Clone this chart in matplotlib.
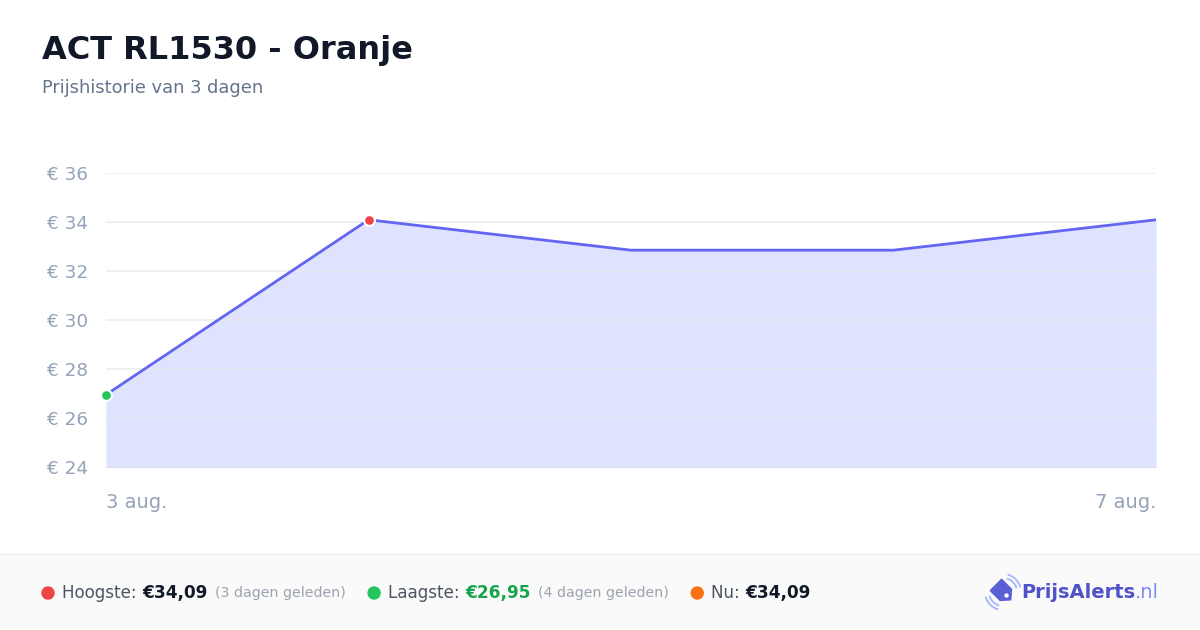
import numpy as np
import matplotlib.pyplot as plt
from matplotlib.patches import Rectangle, Polygon, Arc, Circle

plt.rcParams['font.family'] = ['DejaVu Sans']

# Prijsdata
dates = ['3 aug.', '4 aug.', '5 aug.', '6 aug.', '7 aug.']
prices = [26.95, 34.09, 32.85, 32.85, 34.09]
y_ticks = [24, 26, 28, 30, 32, 34, 36]

title = 'ACT RL1530 - Oranje'
subtitle = 'Prijshistorie van 3 dagen'
high_label, high_value, high_note = 'Hoogste: ', '€34,09', '(3 dagen geleden)'
low_label, low_value, low_note = 'Laagste: ', '€26,95', '(4 dagen geleden)'
now_label, now_value = 'Nu: ', '€34,09'

W, H = 1200, 630
fig = plt.figure(figsize=(12, 6.3), dpi=100)
fig.patch.set_facecolor('white')

# Footer achtergrond
fig.patches.append(Rectangle((0, 0), 1, 76 / H, transform=fig.transFigure,
                             facecolor='#fafafa', edgecolor='none', zorder=0))
fig.lines.append(plt.Line2D([0, 1], [76 / H, 76 / H], transform=fig.transFigure,
                            color='#eeeeee', linewidth=1))

# Grafiek
ax = fig.add_axes([106 / W, (H - 467) / H, 1050 / W, 294 / H])
x = list(range(len(prices)))
ax.fill_between(x, prices, 24, color='#e0e3ff', linewidth=0, zorder=1)
ax.plot(x, prices, color='#6366f1', linewidth=2, zorder=3)
i_max = prices.index(max(prices))
i_min = prices.index(min(prices))
ax.scatter([x[i_max]], [prices[i_max]], s=60, color='#ef4444', edgecolor='white',
           linewidth=1.5, zorder=4, clip_on=False)
ax.scatter([x[i_min]], [prices[i_min]], s=60, color='#22c55e', edgecolor='white',
           linewidth=1.5, zorder=4, clip_on=False)
ax.set_xlim(0, len(prices) - 1)
ax.set_ylim(24, 36)
ax.set_yticks(y_ticks)
ax.set_yticklabels([f'€ {v}' for v in y_ticks])
ax.grid(axis='y', color='#e5e7eb', linewidth=1.2, alpha=0.75, zorder=2)
ax.set_axisbelow(False)
ax.set_xticks([])
for s in ['top', 'right', 'left']:
    ax.spines[s].set_visible(False)
ax.spines['bottom'].set_color('#dcdff0')
ax.spines['bottom'].set_zorder(5)
ax.tick_params(axis='y', length=0, pad=13, labelsize=13.2, labelcolor='#94a3b8')
ax.set_facecolor('none')

ax.text(0, -0.122, dates[0], transform=ax.transAxes, ha='left', va='center',
        fontsize=14, color='#94a3b8')
ax.text(1, -0.122, dates[-1], transform=ax.transAxes, ha='right', va='center',
        fontsize=14, color='#94a3b8')

# Titels
fig.text(42 / W, 1 - 59 / H, title, fontsize=23, fontweight='bold', color='#111827',
         va='baseline')
fig.text(42 / W, 1 - 93 / H, subtitle, fontsize=12.85, color='#64748b', va='baseline')

# Footer tekst
fig.canvas.draw()
renderer = fig.canvas.get_renderer()
fy = 1 - 593 / H


def put(xpx, txt, **kw):
    t = fig.text(xpx / W, fy, txt, va='center', **kw)
    bb = t.get_window_extent(renderer)
    return xpx + bb.width


def dot(xpx, color):
    fig.patches.append(Circle((xpx, H - 593), 6, transform=None, color=color))


xp = 42
dot(xp + 6, '#ef4444')
xp = put(xp + 20, high_label, fontsize=12.1, color='#4b5563')
xp = put(xp, high_value, fontsize=12.2, fontweight='bold', color='#111827')
xp = put(xp + 8, high_note, fontsize=10.2, color='#9ca3af')
dot(xp + 28, '#22c55e')
xp = put(xp + 42, low_label, fontsize=12.1, color='#4b5563')
xp = put(xp, low_value, fontsize=12.2, fontweight='bold', color='#16a34a')
xp = put(xp + 8, low_note, fontsize=10.2, color='#9ca3af')
dot(xp + 28, '#f97316')
xp = put(xp + 42, now_label, fontsize=12.1, color='#4b5563')
xp = put(xp, now_value, fontsize=12.2, fontweight='bold', color='#111827')

# Logo: label-icoon met golfjes (punt naar rechtsonder)
cx, cy = 1003, H - 592
local = np.array([[-10, -8], [-10, 8], [4, 8], [11, 0], [4, -8]], dtype=float)
ang = np.deg2rad(-45)
rot = np.array([[np.cos(ang), -np.sin(ang)], [np.sin(ang), np.cos(ang)]])
pts = local @ rot.T + [cx, cy]
fig.patches.append(Polygon(pts, closed=True, transform=None, color='#5a5fd6'))
hole = np.array([5, 0]) @ rot.T + [cx, cy]
fig.patches.append(Circle(hole, 1.5, transform=None, color='white'))
for r in (28, 36):
    fig.patches.append(Arc((cx, cy), r, r, theta1=15, theta2=75, transform=None,
                           color='#a5b4fc', linewidth=1.3))
    fig.patches.append(Arc((cx, cy), r, r, theta1=195, theta2=255, transform=None,
                           color='#a5b4fc', linewidth=1.3))
t = fig.text(1021 / W, fy, 'PrijsAlerts', fontsize=14, fontweight='bold',
             color='#4f52c9', va='center')
bb = t.get_window_extent(renderer)
fig.text((1021 + bb.width) / W, fy, '.nl', fontsize=14, color='#818cf8', va='center')

fig.savefig('out.png', dpi=100)
